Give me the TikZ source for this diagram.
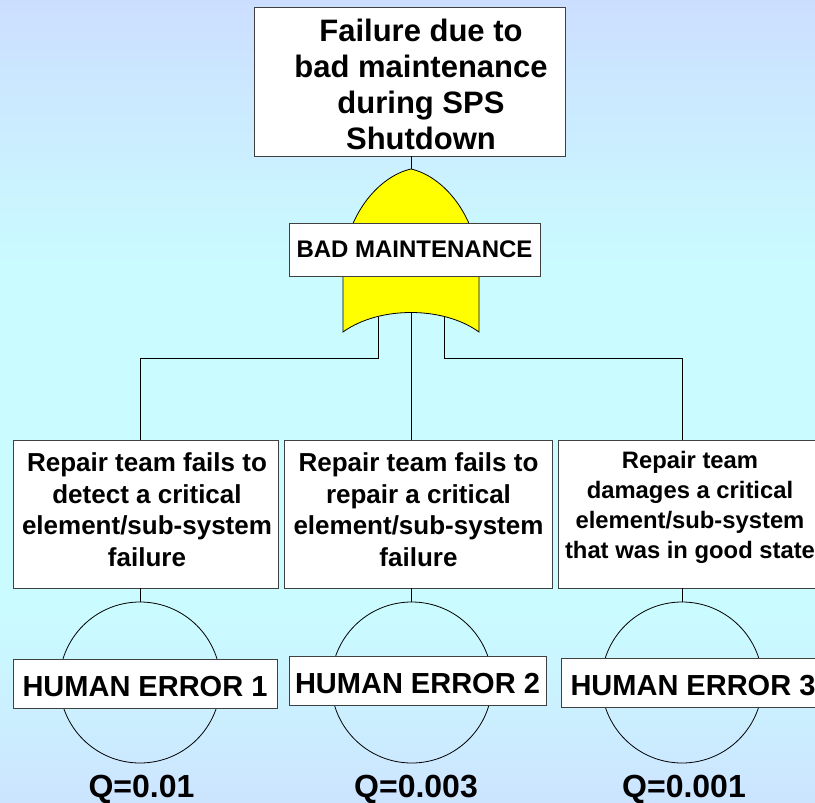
\documentclass[tikz,border=0pt]{standalone}
\usepackage{fontspec}
\setmainfont{Liberation Sans}

\definecolor{bgtop}{RGB}{204,222,255}
\definecolor{bgmid}{RGB}{202,252,255}
\definecolor{bgbot}{RGB}{204,228,255}
\definecolor{gateyellow}{RGB}{255,255,0}
\definecolor{edge}{RGB}{64,64,64}
\pgfdeclareverticalshading{bgfade}{100bp}{color(0bp)=(bgbot); color(25bp)=(bgbot); color(37bp)=(bgmid);
	color(58bp)=(bgmid); color(75bp)=(bgtop); color(100bp)=(bgtop)}

\begin{document}
\begin{tikzpicture}[x=1pt, y=-1pt,
	box/.style={draw=edge, fill=white, line width=0.9pt, inner sep=0pt},
	wire/.style={draw=black, line width=0.8pt},
	evtext/.style={align=center, inner sep=0pt, font=\bfseries\fontsize{26}{31.7}\selectfont},
	hebox/.style={box, text height=37pt, text depth=12pt, anchor=base, font=\bfseries\fontsize{29}{34}\selectfont},
	basic/.style={circle, draw=black, line width=0.8pt, minimum size=161pt, inner sep=0pt},
	prob/.style={anchor=base, inner sep=0pt, font=\bfseries\fontsize{32}{38}\selectfont}]

\useasboundingbox (0,0) rectangle (815,803);
\clip (0,0) rectangle (815,803);
\shade[shading=bgfade] (0,0) rectangle (815,803);

% top event
\node[box, minimum width=311pt, minimum height=149pt] (top) at (409.5,81.5) {};
\node[align=center, inner sep=0pt, font=\bfseries\fontsize{31}{36}\selectfont] (toptext) at (421,84.4) {Failure due to\\bad maintenance\\during SPS\\Shutdown};

% or gate
\coordinate (gtip) at (411,169);
\coordinate (gin1) at (378,316.5);
\coordinate (gin2) at (411,312.5);
\coordinate (gin3) at (444,316.5);
\coordinate (bus) at (0,358);
\filldraw[fill=gateyellow, draw=black, line width=0.8pt] (gtip) .. controls (380,176) and (348,212) .. (343,262) -- (343,332)
	.. controls (379,306) and (443,306) .. (479,332) -- (479,262) .. controls (474,212) and (442,176) .. (gtip) -- cycle;
\node[box, minimum width=251pt, minimum height=53pt, font=\bfseries\fontsize{24}{28}\selectfont] (gate) at (414.5,249.5) {BAD MAINTENANCE};

% intermediate events
\node[box, minimum width=265pt, minimum height=148pt] (b1) at (145.5,514) {};
\node[box, minimum width=268pt, minimum height=148pt] (b2) at (418.3,514) {};
\node[box, minimum width=265pt, minimum height=148pt] (b3) at (690.5,514) {};
\node[evtext] (t1) at (147,509.8) {Repair team fails to\\detect a critical\\element/sub-system\\failure};
\node[evtext] (t2) at (418.5,509.8) {Repair team fails to\\repair a critical\\element/sub-system\\failure};
\node[evtext, font=\bfseries\fontsize{23.8}{30}\selectfont] (t3) at (690,507) {Repair team\\damages a critical\\element/sub-system\\that was in good state};

% basic events
\node[basic] (c1) at (140,682.5) {};
\node[basic] (c2) at (411.7,682.5) {};
\node[basic] (c3) at (682,682.5) {};
\node[hebox, minimum width=264pt] (h1) at (145,696) {HUMAN ERROR 1};
\node[hebox, minimum width=257pt] (h2) at (417.5,693) {HUMAN ERROR 2};
\node[hebox, minimum width=264pt] (h3) at (693,695) {HUMAN ERROR 3};

\node[prob] (q1) at (141.5,797) {Q=0.01};
\node[prob] (q2) at (416,797) {Q=0.003};
\node[prob] (q3) at (684,797) {Q=0.001};

% connectors
\draw[wire] (gtip |- top.south) -- (gtip);
\draw[wire] (gin1) -- (gin1 |- bus) -| (c1 |- b1.north);
\draw[wire] (gin2) -- (gin2 |- b2.north);
\draw[wire] (gin3) -- (gin3 |- bus) -| (c3 |- b3.north);
\foreach \i in {1,2,3} {
	\draw[wire] (b\i.south -| c\i) -- (c\i.north);
}

\end{tikzpicture}
\end{document}
